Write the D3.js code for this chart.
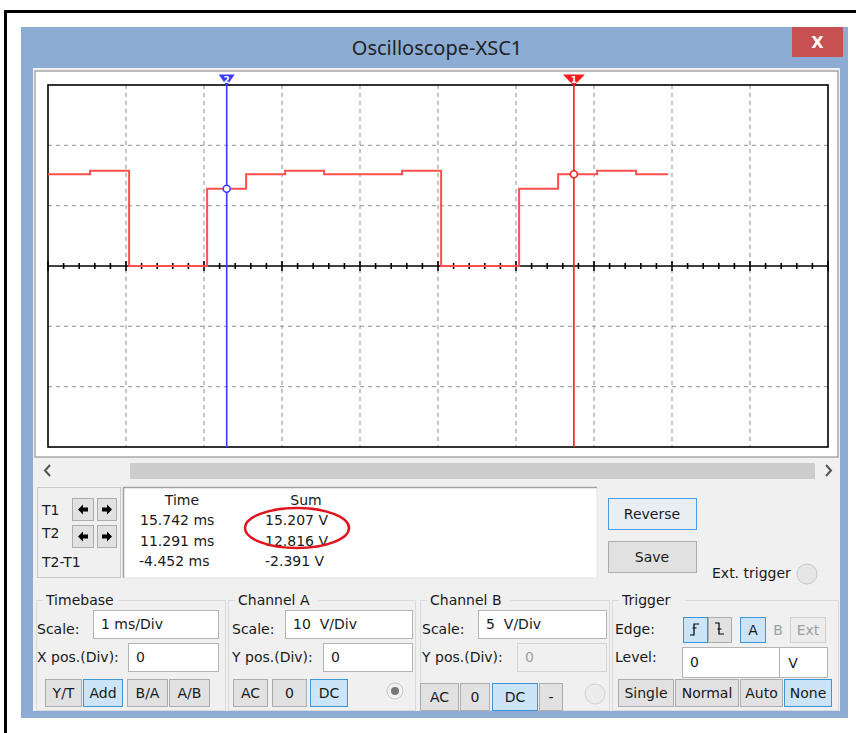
<!DOCTYPE html>
<html><head><meta charset="utf-8">
<script src="https://cdn.jsdelivr.net/npm/d3@7"></script>
<style>
html,body{margin:0;padding:0;background:#fff;}
svg{display:block;}
text{font-family:"DejaVu Sans",sans-serif;font-size:14px;fill:#1a1a1a;}
</style></head>
<body>
<svg id="c" width="856" height="733"></svg>
<script>
// ---------- data ----------
const timeRange = [9, 19];          // ms shown across the screen (1 ms/Div, 10 div)
const voltRange = [-30, 30];        // V (10 V/Div, 6 div)
const gridTimes = [9, 10, 11, 12, 13, 14, 15, 16, 17, 18, 19];
const gridVolts = [-30, -20, -10, 0, 10, 20, 30];
const traceTimes = [9, 9.54, 10.04, 11.04, 11.54, 12.04, 12.54, 13.54, 14.04, 15.04, 15.54, 16.04, 16.54, 16.95];
const traceVolts = [15.207, 15.8, 0, 12.816, 15.207, 15.8, 15.207, 15.8, 0, 12.816, 15.207, 15.8, 15.207, 15.207];
const cursorTimes = [15.742, 11.291];
const cursorVolts = [15.207, 12.816];
const cursorLabels = ["1", "2"];
const cursorColors = ["#ff1a1a", "#3b3bff"];
const readoutHeaders = ["Time", "Sum"];
const rowLabels = ["T1", "T2", "T2-T1"];
const readoutTimes = ["15.742 ms", "11.291 ms", "-4.452 ms"];
const readoutSums = ["15.207 V", "12.816 V", "-2.391 V"];
const titleText = "Oscilloscope-XSC1";

// ---------- drawing ----------
const svg = d3.select("#c");
// outer black frame
svg.append("line").attr("x1",5.5).attr("y1",10).attr("x2",5.5).attr("y2",733).attr("stroke","#000").attr("stroke-width",3);
svg.append("line").attr("x1",4).attr("y1",11.5).attr("x2",856).attr("y2",11.5).attr("stroke","#000").attr("stroke-width",3);

// window
svg.append("rect").attr("x",21).attr("y",27).attr("width",827).attr("height",691).attr("fill","#8cacd4");
svg.append("rect").attr("x",33).attr("y",68).attr("width",807).attr("height",643).attr("fill","#f0f0f0");
svg.append("text").attr("x",437).attr("y",55).attr("text-anchor","middle")
  .style("font-family","'Noto Sans',sans-serif").style("font-size","20px").style("fill","#222").text(titleText);
svg.append("rect").attr("x",792).attr("y",27).attr("width",51).attr("height",30).attr("fill","#c75050");
svg.append("text").attr("x",817.5).attr("y",48).attr("text-anchor","middle")
  .style("font-family","'DejaVu Sans',sans-serif").style("font-weight","bold").style("font-size","16px").style("fill","#fff").text("X");

// plot panel
svg.append("rect").attr("x",35).attr("y",71).attr("width",803).attr("height",386).attr("fill","#fff")
  .attr("stroke","#a8a8a8").attr("stroke-width",1.5);

const x = d3.scaleLinear().domain(timeRange).range([48, 828]);
const y = d3.scaleLinear().domain(voltRange).range([447, 85]);

const g = svg.append("g");
// grid
g.selectAll("line.vg").data(gridTimes.slice(1, -1)).join("line")
  .attr("x1", d => x(d)).attr("x2", d => x(d)).attr("y1", y(30)).attr("y2", y(-30))
  .attr("stroke", "#a8a8a8").attr("stroke-width", 1.3).attr("stroke-dasharray", "4,4");
g.selectAll("line.hg").data(gridVolts.filter(v => v !== 0 && Math.abs(v) !== 30)).join("line")
  .attr("y1", d => y(d)).attr("y2", d => y(d)).attr("x1", x(9)).attr("x2", x(19))
  .attr("stroke", "#a8a8a8").attr("stroke-width", 1.3).attr("stroke-dasharray", "4,4");
// center axis with ticks
g.append("line").attr("x1", x(9)).attr("x2", x(19)).attr("y1", y(0)).attr("y2", y(0)).attr("stroke", "#000").attr("stroke-width", 1.6);
const minorTicks = d3.range(timeRange[0], timeRange[1] + 0.001, 0.2);
g.selectAll("line.mt").data(minorTicks).join("line")
  .attr("x1", d => x(d)).attr("x2", d => x(d))
  .attr("y1", d => y(0) - (Math.abs(d - Math.round(d)) < 0.01 ? 5 : 3))
  .attr("y2", d => y(0) + (Math.abs(d - Math.round(d)) < 0.01 ? 5 : 3))
  .attr("stroke", "#000").attr("stroke-width", 1.6);
// border
g.append("rect").attr("x", x(9)).attr("y", y(30)).attr("width", x(19) - x(9)).attr("height", y(-30) - y(30))
  .attr("fill", "none").attr("stroke", "#000").attr("stroke-width", 1.6);

// trace
const traceData = traceTimes.map((t, i) => [t, traceVolts[i]]);
g.append("path").datum(traceData)
  .attr("d", d3.line().x(d => x(d[0])).y(d => y(d[1])).curve(d3.curveStepAfter))
  .attr("fill", "none").attr("stroke", "#ff4f4f").attr("stroke-width", 2);

// cursors
cursorTimes.forEach((t, i) => {
  const cx = x(t), col = cursorColors[i], hw = i === 0 ? 11 : 8;
  g.append("line").attr("x1", cx).attr("x2", cx).attr("y1", 80).attr("y2", y(-30)).attr("stroke", col).attr("stroke-width", 1.6);
  g.append("path").attr("d", `M${cx - hw},74.5 L${cx + hw},74.5 L${cx},86 Z`).attr("fill", col);
  g.append("text").attr("x", cx).attr("y", 82.5).attr("text-anchor", "middle")
    .style("font-size", "9px").style("font-weight", "bold").style("fill", "#fff").text(cursorLabels[i]);
  g.append("circle").attr("cx", cx).attr("cy", y(cursorVolts[i])).attr("r", 3.5)
    .attr("fill", "#fff").attr("stroke", col).attr("stroke-width", 1.5);
});

// scrollbar
svg.append("rect").attr("x",130).attr("y",463).attr("width",685).attr("height",16).attr("fill","#cdcdcd");
svg.append("path").attr("d","M50,465 L45,470.5 L50,476").attr("fill","none").attr("stroke","#555").attr("stroke-width",2);
svg.append("path").attr("d","M826,465 L831,470.5 L826,476").attr("fill","none").attr("stroke","#555").attr("stroke-width",2);

// helpers
function button(bx, by, w, h, label, state) {
  const fills = {normal: "#e1e1e1", active: "#cce4f7", plain: "#f0f0f0", light: "#ececec"};
  const strokes = {normal: "#adadad", active: "#3d95d8", plain: "none", light: "#d0d0d0"};
  svg.append("rect").attr("x", bx + 0.5).attr("y", by + 0.5).attr("width", w).attr("height", h)
    .attr("fill", fills[state]).attr("stroke", strokes[state]);
  if (label) svg.append("text").attr("x", bx + w / 2 + 0.5).attr("y", by + h / 2 + 5.5).attr("text-anchor", "middle")
    .style("fill", (state === "plain" || state === "light") ? "#a0a0a0" : "#1a1a1a").text(label);
}
function input(bx, by, w, h, label, disabled) {
  svg.append("rect").attr("x", bx + 0.5).attr("y", by + 0.5).attr("width", w).attr("height", h)
    .attr("fill", disabled ? "#f0f0f0" : "#fff").attr("stroke", disabled ? "#d6d6d6" : "#b4b4b4");
  svg.append("text").attr("x", bx + 8).attr("y", by + h / 2 + 5).style("fill", disabled ? "#a0a0a0" : "#1a1a1a")
    .attr("xml:space", "preserve").text(label);
}
function label(lx, ly, t, col) {
  svg.append("text").attr("x", lx).attr("y", ly).style("fill", col || "#1a1a1a").attr("xml:space", "preserve").text(t);
}

// T1/T2 box
svg.append("rect").attr("x",37.5).attr("y",487.5).attr("width",83).attr("height",90).attr("fill","#f0f0f0").attr("stroke","#c8c8c8");
label(42, 515, rowLabels[0]);
label(42, 538, rowLabels[1]);
label(42, 567, rowLabels[2]);
[[498],[525]].forEach(([by]) => {
  button(72, by, 21, 22, "", "normal");
  button(97, by, 19, 22, "", "normal");
  const c1 = 83, c2 = 107, cy = by + 11.5;
  svg.append("path").attr("d", `M${c1-5},${cy} L${c1},${cy-5} L${c1},${cy-2} L${c1+5},${cy-2} L${c1+5},${cy+2} L${c1},${cy+2} L${c1},${cy+5} Z`).attr("fill", "#000");
  svg.append("path").attr("d", `M${c2+5},${cy} L${c2},${cy-5} L${c2},${cy-2} L${c2-5},${cy-2} L${c2-5},${cy+2} L${c2},${cy+2} L${c2},${cy+5} Z`).attr("fill", "#000");
});

// readout box
svg.append("rect").attr("x",123).attr("y",487).attr("width",474).attr("height",91).attr("fill","#fff");
svg.append("path").attr("d","M123.5,578 L123.5,487.5 L597,487.5").attr("fill","none").attr("stroke","#a0a0a0").attr("stroke-width",1.5);
svg.append("path").attr("d","M597,488 L597,578 L123,578").attr("fill","none").attr("stroke","#e3e3e3").attr("stroke-width",1);
svg.append("text").attr("x",182).attr("y",505).attr("text-anchor","middle").text(readoutHeaders[0]);
svg.append("text").attr("x",306).attr("y",505).attr("text-anchor","middle").text(readoutHeaders[1]);
const rowY = [525, 546, 566];
readoutTimes.forEach((t, i) => label(i === 2 ? 139 : 140, rowY[i], t));
readoutSums.forEach((t, i) => label(265, rowY[i], t));
svg.append("ellipse").attr("cx",297).attr("cy",528).attr("rx",52).attr("ry",20)
  .attr("fill","none").attr("stroke","#e0141e").attr("stroke-width",2.5);

// Reverse / Save
svg.append("rect").attr("x",608.5).attr("y",498.5).attr("width",88).attr("height",31).attr("fill","#e9eef3").attr("stroke","#4a9ee6");
svg.append("text").attr("x",652).attr("y",519).attr("text-anchor","middle").text("Reverse");
svg.append("rect").attr("x",608.5).attr("y",541.5).attr("width",88).attr("height",31).attr("fill","#e1e1e1").attr("stroke","#adadad");
svg.append("text").attr("x",652).attr("y",562).attr("text-anchor","middle").text("Save");
label(712, 578, "Ext. trigger");
svg.append("circle").attr("cx",807).attr("cy",574).attr("r",10).attr("fill","#e6e6e6").attr("stroke","#c8c8c8");

// group frames
const groups = [["Timebase", 36, 189], ["Channel A", 228, 187], ["Channel B", 420, 189], ["Trigger", 612, 226]];
groups.forEach(([name, gx, gw]) => {
  svg.append("rect").attr("x", gx + 0.5).attr("y", 600.5).attr("width", gw).attr("height", 110)
    .attr("fill", "none").attr("stroke", "#dadada");
  const tw = name.length * 8.6;
  svg.append("rect").attr("x", gx + 7).attr("y", 594).attr("width", tw + 6).attr("height", 12).attr("fill", "#f0f0f0");
  label(gx + 10, 605, name);
});

// Timebase
label(37, 634, "Scale:");
input(93, 610, 125, 28, "1 ms/Div");
label(37, 662, "X pos.(Div):");
input(128, 643, 90, 28, "0");
button(45, 679, 36, 27, "Y/T", "normal");
button(83, 679, 39, 27, "Add", "active");
button(127, 679, 40, 27, "B/A", "normal");
button(169, 679, 40, 27, "A/B", "normal");

// Channel A
label(232, 634, "Scale:");
input(285, 610, 127, 28, "10  V/Div");
label(232, 662, "Y pos.(Div):");
input(323, 643, 89, 28, "0");
button(233, 679, 34, 27, "AC", "normal");
button(272, 679, 34, 27, "0", "normal");
button(310, 679, 37, 27, "DC", "active");
svg.append("circle").attr("cx",395).attr("cy",691).attr("r",8).attr("fill","#f2f2f2").attr("stroke","#c8c8c8");
svg.append("circle").attr("cx",395).attr("cy",691).attr("r",4).attr("fill","#777");

// Channel B
label(422, 634, "Scale:");
input(478, 610, 128, 28, "5  V/Div");
label(422, 662, "Y pos.(Div):");
input(517, 643, 89, 28, "0", true);
button(420, 683, 38, 27, "AC", "normal");
button(460, 683, 29, 27, "0", "normal");
button(492, 683, 45, 27, "DC", "active");
button(539, 683, 23, 27, "-", "normal");
svg.append("circle").attr("cx",595).attr("cy",694).attr("r",10).attr("fill","#ececec").attr("stroke","#d0d0d0");

// Trigger
label(615, 634, "Edge:");
button(683, 617, 24, 25, "", "active");
button(708, 617, 23, 25, "", "normal");
svg.append("path").attr("d","M690,635 h4 v-11 h5 M692.5,628 h4").attr("fill","none").attr("stroke","#000").attr("stroke-width",1.2);
svg.append("path").attr("d","M715,623 h4 v11 h5 M717.5,629 h4").attr("fill","none").attr("stroke","#000").attr("stroke-width",1.2);
button(740, 617, 25, 25, "A", "active");
button(767, 617, 21, 25, "B", "plain");
button(790, 617, 35, 25, "Ext", "light");
label(615, 662, "Level:");
input(682, 647, 97, 30, "0");
svg.append("rect").attr("x",779.5).attr("y",647.5).attr("width",48).attr("height",30).attr("fill","#fff").attr("stroke","#b4b4b4");
svg.append("text").attr("x",793).attr("y",668).attr("text-anchor","middle").text("V");
button(618, 679, 55, 27, "Single", "normal");
button(675, 679, 63, 27, "Normal", "normal");
button(740, 679, 42, 27, "Auto", "normal");
button(784, 679, 47, 27, "None", "active");
</script>
</body></html>
